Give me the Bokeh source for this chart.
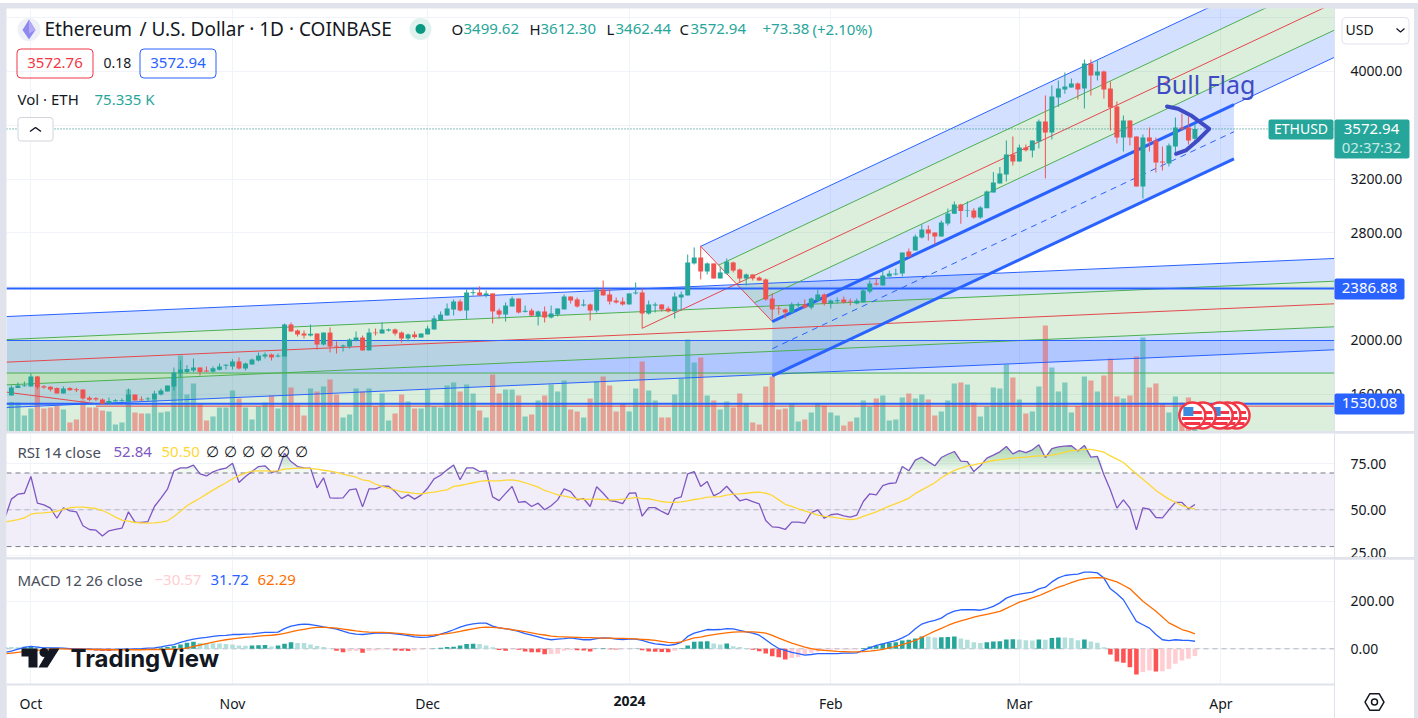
import numpy as np
from bokeh.plotting import figure
from bokeh.layouts import column
from bokeh.models import (Range1d, FixedTicker, Grid, Label, Div, NumeralTickFormatter)
from bokeh.embed import file_html
from bokeh.resources import INLINE

# ---------- data: days counted from 1 Oct 2023, first candle 27 Sep 2023 ----------
opens = [1592,1591,1646,1660,1658,1732,1660,1656,1646,1606,1646,1638,1636,1574,1571,1561,1534,1549,1551,1549,1598,1561,1564,1561,1598,1621,1658,1757,1765,1777,1799,1777,1767,1782,1812,
 1807,1844,1792,1822,1851,1881,1896,1881,1881,2119,2074,2052,2037,2052,1970,2059,1960,1955,1955,2000,2022,1926,2059,2052,2074,2082,2059,2015,2045,2022,
 2045,2082,2149,2186,2230,2290,2223,2352,2357,2335,2350,2223,2193,2253,2312,2213,2223,2179,2216,2171,2193,2231,2327,2305,2260,2268,2223,2379,2342,2297,2290,
 2268,2350,2357,2201,2260,2268,2238,2216,2320,2335,2573,2617,2513,2573,2461,2498,2580,2528,2461,2491,2468,2454,2312,2238,2231,2208,2260,2268,2245,2297,2342,
 2275,2292,2305,2295,2275,2283,2364,2424,2409,2476,2491,2498,2662,2669,2766,2825,2803,2773,2870,2942,3011,2962,2967,2915,2984,3100,3167,3234,3383,
 3331,3435,3413,3480,3628,3547,3807,3866,3881,3911,3874,4059,3970,4000,3874,3740,3509,3636,3517,3145,3509,3487,3331,3316,3442,3584,3584,3499.62]
highs = [1612,1665,1688,1695,1755,1737,1668,1660,1651,1658,1653,1648,1636,1586,1579,1569,1576,1564,1569,1643,1598,1584,1579,1626,1643,1665,1799,1851,1817,1866,1799,1807,1807,1829,1824,
 1861,1874,1836,1866,1911,1911,1903,1903,2126,2134,2082,2074,2119,2052,2059,2097,1993,1970,2015,2067,2037,2089,2089,2134,2089,2089,2067,2052,2067,2052,
 2111,2186,2216,2275,2305,2305,2379,2392,2402,2372,2350,2238,2283,2327,2312,2260,2238,2223,2253,2260,2238,2342,2327,2320,2305,2275,2394,2446,2387,2320,2320,
 2350,2431,2387,2297,2283,2268,2253,2357,2364,2639,2692,2706,2580,2573,2550,2610,2587,2535,2498,2491,2476,2461,2350,2260,2238,2283,2283,2305,2320,2379,2350,
 2305,2320,2327,2312,2312,2387,2446,2468,2520,2520,2535,2654,2684,2788,2862,2855,2803,2892,2981,3034,3016,3034,2984,2999,3115,3252,3289,3487,3517,
 3457,3457,3487,3643,3822,3896,3933,3993,3948,3918,4089,4089,4082,4007,3926,3777,3673,3636,3517,3532,3584,3509,3442,3465,3658,3688,3665,3612.30]
lows = [1580,1591,1646,1658,1658,1636,1641,1621,1606,1606,1626,1616,1559,1549,1549,1522,1534,1544,1544,1544,1554,1551,1549,1554,1591,1621,1628,1727,1755,1765,1740,1765,1762,1777,1784,
 1784,1784,1777,1822,1844,1866,1851,1874,1881,2067,2030,2015,2030,1933,1963,1911,1903,1918,1940,1993,1926,1926,2037,2052,2067,2037,1985,1993,2015,2022,
 2045,2082,2149,2186,2186,2216,2156,2335,2330,2320,2127,2164,2141,2253,2201,2208,2179,2112,2134,2164,2179,2231,2275,2245,2253,2149,2208,2335,2268,2275,2260,
 2268,2342,2089,2193,2208,2216,2208,2164,2223,2335,2565,2454,2491,2461,2461,2491,2506,2431,2409,2446,2446,2297,2156,2193,2164,2201,2231,2238,2231,2290,2260,
 2238,2275,2275,2260,2268,2283,2350,2409,2409,2476,2483,2476,2617,2669,2758,2743,2714,2773,2855,2942,2868,2917,2905,2905,2984,3100,3167,3182,3301,
 3331,3405,3361,3428,3205,3495,3737,3834,3879,3792,3725,3822,3933,3799,3561,3465,3405,3450,3145,3056,3405,3249,3264,3294,3376,3561,3457,3462.44]
closes = [1596,1651,1665,1665,1732,1653,1651,1636,1606,1643,1631,1631,1569,1559,1561,1529,1551,1556,1556,1598,1554,1556,1569,1606,1628,1665,1762,1784,1789,1799,1765,1770,1794,1807,1819,
 1844,1792,1829,1859,1888,1896,1874,1888,2119,2067,2045,2037,2050,1970,2059,1955,1955,1963,2007,2022,1926,2059,2054,2082,2082,2052,2015,2045,2025,2052,
 2089,2164,2193,2238,2290,2223,2357,2359,2335,2350,2216,2193,2260,2312,2208,2221,2186,2216,2171,2201,2238,2327,2297,2253,2268,2223,2379,2335,2290,2283,2268,
 2350,2357,2201,2268,2268,2231,2216,2327,2342,2580,2617,2513,2573,2461,2506,2587,2520,2461,2491,2461,2446,2305,2231,2233,2208,2268,2268,2245,2312,2342,2275,
 2297,2300,2283,2290,2297,2372,2424,2416,2483,2498,2498,2654,2625,2773,2825,2796,2773,2877,2944,3011,2962,2967,2915,2989,3108,3175,3242,3383,3331,
 3435,3415,3487,3628,3547,3814,3874,3889,3911,3866,4059,3970,4000,3866,3732,3509,3636,3509,3145,3509,3480,3324,3324,3450,3584,3576,3487,3572.94]
volumes_k = [120,147,145,80,115,222,115,120,130,110,45,60,155,120,120,105,100,35,45,210,95,90,90,160,95,100,272,380,185,240,140,55,75,120,120,
 205,165,120,60,125,145,180,115,420,220,135,80,215,200,225,260,185,70,85,215,200,215,125,190,55,90,185,150,115,115,
 210,125,120,230,245,200,235,190,105,70,285,190,210,210,180,75,85,155,180,235,200,255,110,100,70,165,250,275,230,100,138,
 100,215,350,205,155,70,70,185,265,460,345,370,180,155,110,150,120,190,140,45,35,225,275,110,115,138,50,60,95,143,130,
 95,80,30,50,70,155,125,165,180,55,60,170,190,165,185,160,80,100,155,240,245,235,145,75,125,220,215,335,270,
 160,90,100,225,530,320,200,245,95,127,275,255,200,280,365,175,165,180,375,470,220,240,140,95,175,145,170,75.335]
rsi = [45.4,55.8,58.5,59.0,68.1,53.6,52.7,50.9,45.4,51.1,49.4,48.9,41.3,39.3,38.9,35.8,38.6,39.3,40.0,48.9,43.3,43.1,43.6,51.8,56.3,61.2,71.2,72.8,72.8,74.3,69.5,68.4,70.6,71.9,72.6,
 75.3,64.8,68.1,70.8,73.5,73.9,70.4,71.0,80.8,76.2,73.5,72.8,72.6,61.9,67.4,56.5,56.3,56.5,60.8,61.4,51.6,61.4,61.4,62.8,62.8,59.9,56.1,58.1,55.8,58.0,
 61.7,66.8,68.8,71.7,74.4,66.3,72.8,72.8,70.8,71.2,57.0,55.0,58.9,62.7,54.0,54.5,51.8,53.6,50.0,52.2,55.4,61.4,59.9,55.4,56.0,51.8,62.5,59.0,55.0,54.5,53.4,
 59.0,59.2,46.5,51.2,51.2,49.1,47.4,56.0,57.0,69.5,70.8,62.7,65.4,57.6,59.4,62.8,58.7,54.9,55.8,54.5,53.2,44.2,40.7,40.4,39.3,43.3,43.3,42.7,48.5,50.0,45.4,
 47.3,47.8,46.7,46.0,47.1,54.5,58.7,58.1,63.2,64.3,64.6,73.5,71.2,77.0,78.6,76.2,73.9,78.4,80.2,81.7,76.4,76.2,70.8,73.9,78.1,79.7,81.5,84.4,80.4,
 82.2,81.1,82.6,85.3,78.4,83.3,84.2,84.6,84.8,82.0,85.0,78.6,79.0,69.0,60.8,50.9,55.4,50.9,39.1,51.1,50.3,45.8,45.6,50.0,54.0,54.0,50.5,52.84]
rsi_ma = [43.4,44.0,44.7,45.6,47.6,48.2,48.3,48.7,49.2,50.3,51.1,51.4,51.4,51.1,50.7,49.6,48.0,46.0,44.4,43.8,43.1,42.9,42.7,42.9,43.3,44.0,46.4,49.2,52.2,54.3,56.3,58.5,60.7,62.7,64.7,
 66.8,68.6,69.9,71.0,71.2,71.2,71.0,71.2,72.1,72.4,72.6,72.6,72.4,72.1,71.5,71.0,70.3,69.4,68.6,67.7,66.3,65.7,63.9,62.7,61.8,60.8,59.8,59.4,58.9,58.7,
 59.2,59.6,60.3,60.8,62.7,63.2,63.9,64.7,65.4,65.9,65.7,65.7,66.1,66.3,65.7,64.7,63.6,62.3,60.5,59.4,58.1,57.4,56.7,56.0,55.6,55.8,55.8,55.6,55.4,55.4,55.8,
 56.1,56.7,56.1,56.0,55.2,54.5,54.0,54.0,54.3,54.9,55.6,56.1,56.9,57.0,57.2,58.0,58.5,58.7,59.0,59.4,59.6,59.0,57.8,55.4,53.0,51.8,50.5,49.4,48.3,47.1,46.4,
 46.2,45.6,45.1,44.7,45.1,46.4,47.6,48.9,50.5,52.0,53.4,54.7,56.3,58.9,60.8,62.7,64.7,67.4,69.5,71.4,72.6,73.9,74.4,75.2,76.1,76.8,77.3,77.7,78.1,
 78.4,78.6,79.0,79.3,79.3,79.7,80.4,81.3,82.2,82.4,82.8,82.8,82.2,81.3,79.3,77.5,75.7,72.6,69.5,66.6,63.6,60.5,58.1,55.8,54.1,52.3,51.2,50.50]
macd_line = [-15,-10,-1,6,10,7,4,4,4,3,1,1,0,-1,-3,-3,-3,-3,-1,-1,0,1,3,4,8,13,18,27,34,41,45,48,52,55,56,
 60,60,62,63,66,69,69,70,85,95,101,104,102,97,92,88,83,74,66,62,60,63,66,67,66,63,60,55,50,48,
 49,53,62,70,80,91,99,105,108,108,95,88,84,80,73,64,57,50,43,38,41,43,46,42,38,38,43,46,45,41,39,
 41,41,35,27,21,18,14,18,27,52,66,73,81,80,81,85,84,77,71,66,57,38,18,1,-7,-15,-20,-27,-24,-20,-20,
 -20,-20,-18,-18,-17,-7,4,14,21,28,34,46,60,84,104,113,119,129,147,158,164,165,164,162,169,178,193,213,223,
 230,234,238,252,259,281,298,308,312,314,322,322,319,297,252,231,206,161,115,101,87,60,38,34,38,36,35,31.72]
macd_signal = [-21,-18,-15,-12,-10,-7,-4,-1,0,0,-1,-1,-1,-2,-3,-4,-4,-4,-4,-4,-4,-4,-3,-3,-3,-2,-1,0,3,10,16,22,28,33,38,
 42,45,48,50,53,55,57,60,65,71,77,82,87,90,90,89,87,83,79,75,72,70,69,69,68,66,64,61,58,56,
 56,58,61,64,68,73,79,84,89,91,90,88,85,80,76,72,67,62,58,53,51,50,49,48,47,47,46,45,45,44,44,
 43,42,40,38,35,31,27,25,29,38,46,49,55,60,64,67,70,71,71,71,69,66,56,45,34,24,15,7,1,-4,-7,
 -9,-11,-12,-13,-13,-12,-10,-7,-2,4,10,18,26,35,48,61,74,86,98,109,117,125,133,139,145,151,157,170,183,
 196,205,214,223,235,247,259,268,278,287,294,298,299,298,290,281,267,252,226,200,179,158,134,109,95,81,73,62.29]
macd_hist = [8,8,6,9,12,10,8,5,3,2,1,-2,-4,-6,-7,-8,-9,-6,-4,-3,-2,-1,-1,1,5,8,12,18,25,30,24,24,23,22,20,
 18,14,13,14,15,16,10,14,21,28,24,24,18,12,8,1,-8,-14,-10,-9,-17,-8,-7,-3,-2,-7,-8,-9,-7,-3,
 -1,1,4,8,9,14,20,21,20,14,6,-5,-8,-2,-4,-11,-14,-15,-23,-22,-21,-8,-5,-6,-7,-11,1,2,-2,-3,-1,
 -1,1,-6,-11,-12,-13,-14,-8,2,14,30,31,32,22,18,22,11,8,2,-4,-10,-20,-31,-36,-45,-39,-36,-24,-17,-11,-7,
 -4,-3,-3,-3,-2,3,10,13,21,25,28,35,38,43,52,52,48,49,50,52,43,38,27,24,28,31,32,39,40,
 39,36,35,39,38,45,48,47,45,36,39,31,25,6,-24,-53,-59,-78,-108,-98,-91,-95,-94,-85,-63,-49,-42,-30.57]
for nm, arr in dict(opens=opens, highs=highs, lows=lows, closes=closes, volumes_k=volumes_k, rsi=rsi, rsi_ma=rsi_ma,
                    macd_line=macd_line, macd_signal=macd_signal, macd_hist=macd_hist).items():
    assert len(arr) == 184, (nm, len(arr))

month_days = [0, 31, 61, 92, 123, 152, 183]
month_labels = {0: "Oct", 31: "Nov", 61: "Dec", 92: "", 123: "Feb", 152: "Mar", 183: "Apr"}
price_ticks = [4000, 3200, 2800, 2000, 1600]
price_grid = [4400, 4000, 3600, 3200, 2800, 2400, 2000, 1600]
hlines = [2386.88, 1530.08]
last_price = 3572.94

# rising channel (fork anchors: day, price)
fork_a = (94, 2091); fork_b = (103, 2700); fork_c = (114, 2141); fork_end_day = 185
# slow channel: price of each line at its left and right end
slow_days = (-3.75, 200.5)
slow_top = (2178, 2610); slow_up = (2007, 2441); slow_mid = (1839, 2273); slow_low = (1670, 2102); slow_bot = (1502, 1931)
# flat channel levels
flat_blue, flat_green, flat_red = 2000, 1758, 1512
flat_entry_days = (-3.75, 10); flat_entry_prices = (1616, 1530)
brush_days = [174.7, 176.4, 178.4, 181.2, 179.4, 177.6, 176.1]
brush_prices = [3740, 3723, 3673, 3574, 3487, 3413, 3388]
flag_days = [185.4, 184.0, 182.8, 180.2, 178.6]

# ---------- scales ----------
days = np.arange(len(closes)) - 4
PXD, X0 = 6.503, 30.4
def dx(px): return (px - X0) / PXD
XL, XR = dx(6), dx(1334)
FONT = "Noto Sans"; INK = "#131722"; GRID = "#f0f3fa"; EDGE = "#e0e3eb"
UP, DOWN = "#26a69a", "#ef5350"; BLUE = "#2962ff"; GREEN = "#4caf50"; RED = "#e5484d"
THIN = 1

def pane(height, top_val, bot_val, yticks, gridvals, margin, bottom=0):
    f = figure(width=1408, height=height, x_range=Range1d(XL, XR), y_range=Range1d(bot_val, top_val),
               output_backend="svg", toolbar_location=None, x_axis_location=("below" if bottom else None),
               y_axis_location="right", min_border_left=0, min_border_right=80, min_border_top=0,
               min_border_bottom=bottom, outline_line_color=None, background_fill_color="white",
               border_fill_color="white", margin=margin)
    f.grid.visible = False
    f.add_layout(Grid(dimension=0, ticker=FixedTicker(ticks=month_days), grid_line_color=GRID, level="underlay"))
    f.add_layout(Grid(dimension=1, ticker=FixedTicker(ticks=gridvals), grid_line_color=GRID, level="underlay"))
    ax = f.yaxis[0]
    ax.ticker = FixedTicker(ticks=yticks); ax.formatter = NumeralTickFormatter(format="0.00")
    ax.major_tick_line_color = None; ax.minor_tick_line_color = None; ax.axis_line_color = EDGE
    ax.major_label_text_font = FONT; ax.major_label_text_font_size = "14px"; ax.major_label_text_color = INK
    ax.major_label_standoff = 10
    return f

# ---------- main pane ----------
p = pane(423, 4468.4, 1323.4, price_ticks, price_grid, (5, 4, 0, 6))
p.extra_y_ranges = {"vol": Range1d(0, 2115)}

fa = 0.2
sx = list(slow_days)
for lo, hi, c in [(slow_up, slow_top, BLUE), (slow_mid, slow_up, GREEN), (slow_low, slow_mid, GREEN), (slow_bot, slow_low, BLUE)]:
    p.varea(x=sx, y1=list(lo), y2=list(hi), fill_color=c, fill_alpha=fa)
p.varea(x=sx, y1=[flat_green] * 2, y2=[flat_blue] * 2, fill_color=BLUE, fill_alpha=fa)
p.varea(x=sx, y1=[flat_red] * 2, y2=[flat_green] * 2, fill_color=GREEN, fill_alpha=fa)
p.varea(x=sx, y1=[1323.4] * 2, y2=[flat_red] * 2, fill_color=GREEN, fill_alpha=fa)

mx, my = (fork_b[0] + fork_c[0]) / 2, (fork_b[1] + fork_c[1]) / 2
slope = (my - fork_a[1]) / (mx - fork_a[0])
half = fork_b[1] - (fork_a[1] + slope * (fork_b[0] - fork_a[0]))
half_d = (fork_c[0] - fork_b[0]) / 2
def fork_y(d, k): return fork_a[1] + slope * (d - fork_a[0]) + k * half
def fork_start(k): return mx - k * half_d
for k1, k2, c in [(1, .5, BLUE), (.5, 0, GREEN), (0, -.5, GREEN), (-.5, -1, BLUE)]:
    a, b = fork_start(k1), fork_start(k2)
    p.patch(x=[a, XR + 1, XR + 1, b], y=[fork_y(a, k1), fork_y(XR + 1, k1), fork_y(XR + 1, k2), fork_y(b, k2)],
            fill_color=c, fill_alpha=fa, line_color=None)
p.patch(x=[fork_c[0], fork_end_day, fork_end_day, fork_c[0]],
        y=[fork_y(fork_c[0], -1), fork_y(fork_end_day, -1), fork_y(fork_end_day, -2), fork_y(fork_c[0], -2)],
        fill_color=BLUE, fill_alpha=fa, line_color=None)

vol_col = [UP if c >= o else DOWN for o, c in zip(opens, closes)]
p.vbar(x=days, top=volumes_k, bottom=0, width=0.8, fill_color=vol_col, fill_alpha=0.5, line_color=None, y_range_name="vol")

for vals, c in [(slow_top, BLUE), (slow_up, GREEN), (slow_mid, RED), (slow_low, GREEN), (slow_bot, BLUE)]:
    p.line(sx, list(vals), line_color=c, line_width=THIN)
p.line(sx, [flat_blue] * 2, line_color=BLUE, line_width=THIN)
p.line(sx, [flat_green] * 2, line_color=GREEN, line_width=THIN)
p.line([flat_entry_days[1], slow_days[1]], [flat_red] * 2, line_color=RED, line_width=THIN)
p.line(list(flat_entry_days), list(flat_entry_prices), line_color=RED, line_width=THIN)

p.line([fork_a[0], XR + 1], [fork_a[1], fork_y(XR + 1, 0)], line_color=RED, line_width=THIN)
p.line([fork_b[0], fork_c[0]], [fork_b[1], fork_c[1]], line_color=RED, line_width=THIN)
for k, c in [(1, BLUE), (.5, GREEN), (-.5, GREEN), (-1, BLUE)]:
    a = fork_start(k)
    p.line([a, XR + 1], [fork_y(a, k), fork_y(XR + 1, k)], line_color=c, line_width=THIN)
p.line([fork_c[0], fork_end_day], [fork_c[1], fork_y(fork_end_day, -1)], line_color=BLUE, line_width=3)
p.line([fork_c[0], fork_end_day], [fork_y(fork_c[0], -1.5), fork_y(fork_end_day, -1.5)], line_color=BLUE, line_width=THIN, line_dash="6 5")
p.line([fork_c[0], fork_end_day], [fork_y(fork_c[0], -2), fork_y(fork_end_day, -2)], line_color=BLUE, line_width=3)

for h in hlines:
    p.line([XL, XR], [h, h], line_color=BLUE, line_width=2)
p.line([XL, XR], [last_price] * 2, line_color="#14877c", line_width=1, line_dash="1 2")

col = [UP if c >= o else DOWN for o, c in zip(opens, closes)]
p.segment(x0=days, x1=days, y0=lows, y1=highs, line_color=col, line_width=1)
p.vbar(x=days, top=np.maximum(opens, closes), bottom=np.minimum(opens, closes), width=0.76, fill_color=col, line_color=None)

p.line(brush_days, brush_prices, line_color="#3f4bc4", line_width=4, line_cap="round", line_join="round")

# ---------- RSI pane ----------
r = pane(124, 91.47, 24.07, [75, 50, 25], [75, 50, 25], (2, 4, 0, 6))
r.varea(x=[XL, XR], y1=[30, 30], y2=[70, 70], fill_color="#7e57c2", fill_alpha=0.1)
rsi_arr = np.array(rsi)
for th in (70, 72, 74, 76, 78, 80, 82):
    r.varea(x=days, y1=[th] * len(days), y2=np.maximum(rsi_arr, th), fill_color=GREEN, fill_alpha=0.07)
r.line([XL, XR], [70, 70], line_color="#787b86", line_dash="5 4")
r.line([XL, XR], [30, 30], line_color="#787b86", line_dash="5 4")
r.line([XL, XR], [50, 50], line_color="#b2b5be", line_dash="5 4")
r.line(days, rsi, line_color="#7e57c2", line_width=1.3)
r.line(days, rsi_ma, line_color="#fdd835", line_width=1.3)

# ---------- MACD pane ----------
m = pane(159, 375.2, -150, [200, 0], [200, 0], (2, 4, 0, 6), bottom=34)
m.xaxis[0].ticker = FixedTicker(ticks=month_days)
m.xaxis[0].major_label_overrides = month_labels
m.xaxis[0].major_tick_line_color = None; m.xaxis[0].minor_tick_line_color = None
m.xaxis[0].axis_line_color = EDGE; m.xaxis[0].axis_line_width = 2
m.xaxis[0].major_label_text_font = FONT; m.xaxis[0].major_label_text_font_size = "14px"
m.xaxis[0].major_label_text_color = INK; m.xaxis[0].major_label_standoff = 3
m.line([XL, XR], [0, 0], line_color="#b2b5be", line_dash="5 4")
hc, prev = [], 0
for v in macd_hist:
    hc.append(("#26a69a" if v > prev else "#b2dfdb") if v >= 0 else ("#ff5252" if v < prev else "#ffcdd2"))
    prev = v
m.vbar(x=days, top=macd_hist, bottom=0, width=0.7, fill_color=hc, line_color=None)
m.line(days, macd_line, line_color=BLUE, line_width=1.3)
m.line(days, macd_signal, line_color="#ff6d00", line_width=1.3)

# ---------- overlay for texts, tags and icons, in page pixels ----------
ov = figure(width=1418, height=718, x_range=Range1d(0, 1418), y_range=Range1d(718, 0), output_backend="svg",
            toolbar_location=None, x_axis_location=None, y_axis_location=None, min_border=0, outline_line_color=None,
            background_fill_color=None, border_fill_color=None,
            styles={"position": "absolute", "left": "0px", "top": "0px"})
ov.grid.visible = False

def put(px, py, txt, color=INK, size=15, align="left", bold=False, font=FONT, **kw):
    ov.add_layout(Label(x=px, y=py - 0.8, text=txt, text_color=color, text_font=font, text_font_size=f"{size}px",
                        text_align=align, text_baseline="middle", text_font_style="bold" if bold else "normal", **kw))

def box(l, r_, t, b, fill=None, line=None, radius=2):
    ov.quad(left=[l], right=[r_], top=[t], bottom=[b], fill_color=fill, line_color=line, border_radius=radius)

put(1205, 84, "Bull Flag", color="#3f4bc4", size=25, align="center")

# event flags
for fd in flag_days:
    fx = X0 + fd * PXD
    ov.scatter([fx], [415], size=26, marker="circle", fill_color="white", line_color="#f23645", line_width=2.5)
    for off, w, cy in [(3, 13, -3), (0, 21, 3), (0, 16, 8)]:
        ov.rect([fx + off], [415 + cy], width=w, height=3, fill_color="#f23645", line_color=None)
    ov.rect([fx - 4], [411], width=10, height=9, fill_color="#3d8bdc", line_color=None)

# header
ov.scatter([28.5], [29], size=23, marker="circle", fill_color="#eef0f8", line_color=None)
ov.patch(x=[28.5, 35, 28.5, 22], y=[19, 29.5, 39, 29.5], fill_color="#8f88ee", line_color=None)
ov.patch(x=[28.5, 35, 28.5], y=[19, 29.5, 33], fill_color="#b5a8f5", line_color=None)
ov.scatter([420], [28.5], size=22, marker="circle", fill_color="#dff2ee", line_color=None)
ov.scatter([420], [28.5], size=10, marker="circle", fill_color="#089981", line_color=None)
put(44, 29, "Ethereum", size=19); put(139, 29, "/ U.S. Dollar · 1D · COINBASE", size=19)
for px, t, c in [(451, "O", INK), (463, "3499.62", UP), (529, "H", INK), (540, "3612.30", UP), (606, "L", INK), (615, "3462.44", UP),
                 (679, "C", INK), (690, "3572.94", UP), (762, "+73.38", UP), (812, "(+2.10%)", UP)]:
    put(px, 29, t, color=c)
box(16.5, 92.5, 48.5, 77.5, line="#f23645", radius=4)
box(139.5, 215.5, 48.5, 77.5, line=BLUE, radius=4)
put(54.5, 63, "3572.76", color="#f23645", align="center")
put(103, 63, "0.18", size=14)
put(177.5, 63, "3572.94", color=BLUE, align="center")
put(17, 99, "Vol · ETH"); put(94, 99, "75.335 K", color=UP)
box(17.5, 52.5, 117, 140.5, fill="white", line="#d1d4dc", radius=3)
ov.line([29.5, 35, 40.5], [131, 127, 131], line_color=INK, line_width=1.5)

# right-side tags
box(1341.5, 1408.5, 17, 43.5, fill="white", line=EDGE, radius=4)
put(1345, 30, "USD", size=14)
ov.line([1396, 1400, 1404], [28, 31.5, 28], line_color=INK, line_width=1.2)
box(1334, 1404, 278, 299, fill=BLUE)
box(1334, 1404, 393, 414, fill=BLUE)
put(1369, 288.5, "2386.88", color="white", align="center")
put(1369, 403.5, "1530.08", color="white", align="center")
box(1268, 1333, 119, 139, fill=UP)
put(1300.5, 129, "ETHUSD", color="white", align="center", size=14)
box(1334, 1409, 119, 158, fill=UP)
put(1371, 129, "3572.94", color="white", align="center")
put(1371, 147, "02:37:32", color="#c5ebe6", align="center")

# pane legends
put(17, 452, "RSI 14 close", color="#4a4e5a")
put(113, 452, "52.84", color="#7e57c2"); put(161, 452, "50.50", color="#fdd835")
for px in (212, 230, 248, 266, 283, 301):
    put(px, 452, "∅", align="center", font="DejaVu Sans", size=15)
put(17, 580, "MACD 12 26 close", color="#4a4e5a")
put(154, 580, "−30.57", color="#ffcdd2"); put(210, 580, "31.72", color=BLUE); put(257, 580, "62.29", color="#ff6d00")

# watermark
ov.patch(x=[21, 37, 37, 28, 28, 21], y=[648, 648, 667, 667, 656, 656], fill_color=INK, line_color=None)
ov.scatter([43.5], [652], size=9, marker="circle", fill_color=INK, line_color=None)
ov.patch(x=[49, 59, 47, 38], y=[648, 648, 667, 667], fill_color=INK, line_color=None)
put(70, 659, "TradingView", size=24, font="Inter", bold=True)

# bottom strip
put(629, 701, "2024", bold=True, align="center", size=14)
ov.line([1334, 1334], [684, 718], line_color=EDGE, line_width=1)
ov.scatter([1374], [701.5], size=19, marker="hex", fill_color=None, line_color=INK, line_width=1.5)
ov.scatter([1374], [701.5], size=6, marker="circle", fill_color=None, line_color=INK, line_width=1.5)

top_strip = Div(text="", width=1418, height=3, margin=0, styles={"background": "white"})
page = column(top_strip, p, r, m, spacing=0, margin=0,
              styles={"position": "absolute", "left": "0px", "top": "0px", "background": EDGE})
open("out.html", "w").write(file_html([page, ov], INLINE))
